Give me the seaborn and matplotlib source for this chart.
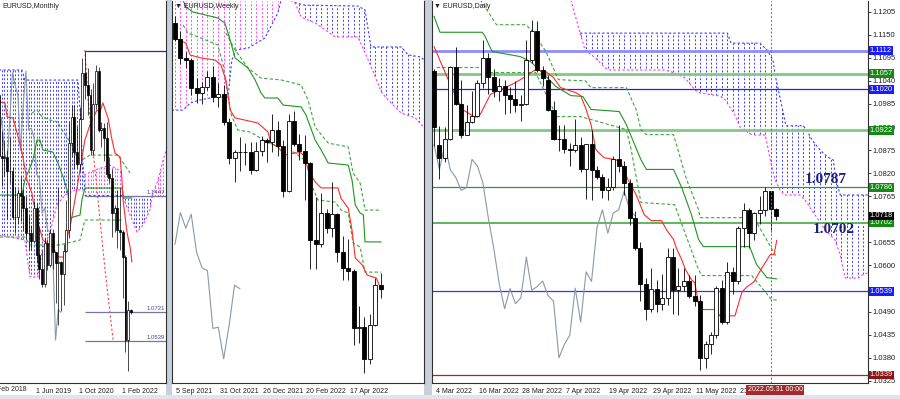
import numpy as np
import matplotlib
matplotlib.use("Agg")
import matplotlib.pyplot as plt
import matplotlib.transforms as mtransforms
from matplotlib.patches import Polygon, Rectangle
import seaborn as sns

# ---------------- DATA ----------------
# Monthly EURUSD, index 0 = Feb 2018 ... 52 = Jun 2022
m_open = [1.2415,1.2193,1.2324,1.2078,1.1693,1.1684,1.1690,1.1601,1.1604,1.1311,1.1317,1.1466,1.1447,1.1372,1.1217,1.1214,1.1166,1.1370,1.1075,1.0990,1.0898,1.1152,1.1017,1.1213,1.1093,1.1026,1.1030,1.0955,1.1101,1.1233,1.1778,1.1936,1.1720,1.1647,1.1927,1.2216,1.2136,1.2075,1.1730,1.2020,1.2226,1.1858,1.1869,1.1808,1.1580,1.1558,1.1338,1.1370,1.1235,1.1218,1.1067,1.0545,1.0733]
m_high = [1.2556,1.2476,1.2414,1.2097,1.1852,1.1791,1.1734,1.1815,1.1625,1.1500,1.1486,1.1570,1.1489,1.1448,1.1324,1.1265,1.1412,1.1400,1.1249,1.1109,1.1180,1.1176,1.1240,1.1239,1.1095,1.1496,1.1038,1.1146,1.1422,1.1908,1.2011,1.2011,1.1881,1.2004,1.2310,1.2349,1.2243,1.2113,1.2150,1.2266,1.2254,1.1909,1.1900,1.1909,1.1692,1.1616,1.1386,1.1482,1.1495,1.1233,1.1076,1.0787,1.0736]
m_low = [1.2153,1.2155,1.2055,1.1510,1.1508,1.1573,1.1301,1.1526,1.1302,1.1216,1.1269,1.1289,1.1234,1.1176,1.1110,1.1107,1.1158,1.1027,1.0926,1.0879,1.0879,1.0981,1.1003,1.0992,1.0778,1.0636,1.0727,1.0767,1.1095,1.1185,1.1696,1.1612,1.1622,1.1602,1.1925,1.2053,1.1952,1.1704,1.1704,1.1986,1.1847,1.1752,1.1664,1.1563,1.1524,1.1186,1.1222,1.1121,1.1106,1.0806,1.0471,1.0349,1.0708]
m_close = [1.2193,1.2324,1.2078,1.1693,1.1684,1.1690,1.1601,1.1604,1.1311,1.1317,1.1466,1.1447,1.1372,1.1217,1.1214,1.1166,1.1370,1.1075,1.0990,1.0898,1.1152,1.1017,1.1213,1.1093,1.1026,1.1030,1.0955,1.1101,1.1233,1.1778,1.1936,1.1720,1.1647,1.1927,1.2216,1.2136,1.2075,1.1730,1.2020,1.2226,1.1858,1.1869,1.1808,1.1580,1.1558,1.1338,1.1370,1.1235,1.1218,1.1067,1.0545,1.0733,1.0718]
m_tick_pos = [16, 32, 48]
m_tick_lab = ['1 Jun 2019', '1 Oct 2020', '1 Feb 2022']
m_tenkan_x = [3.3,5.2,6.0,8.2,9.7,11.5,13.4,15.2,15.6,17.5,19.3,20.8,23.0,24.9,27.5,28.3,29.4,31.2,33.1,34.9,36.8,39.4,40.5,41.6,43.5,45.0,46.1,48.0,48.7,49.1,50.6,51.7,52.4]
m_tenkan_y = [1.2033,1.2027,1.1939,1.1933,1.1839,1.1720,1.1545,1.1464,1.1420,1.1276,1.1170,1.1151,1.1126,1.1064,1.1064,1.1189,1.1251,1.1420,1.1608,1.1795,1.1889,1.1983,1.1970,1.2027,1.1933,1.1795,1.1714,1.1689,1.1545,1.1420,1.1214,1.1126,1.1033]
m_kijun_x = [3.3,11.5,12.6,15.6,17.1,18.2,19.3,23.0,24.9,26.8,28.6,29.4,33.1,33.8,34.9,48.7,49.4,52.4]
m_kijun_y = [1.1451,1.1451,1.1545,1.1670,1.1795,1.1795,1.1733,1.1720,1.1651,1.1564,1.1464,1.1308,1.1326,1.1420,1.1495,1.1495,1.1433,1.1433]
m_dash1_x = [15.2,17.1,19.0,21.9,24.9,25.7,28.3,30.1,32.0,33.8,36.8,47.2,51.7]
m_dash1_y = [1.1964,1.1983,1.1939,1.1920,1.1908,1.1876,1.1814,1.1751,1.1689,1.1670,1.1701,1.1701,1.1589]
m_dash2_x = [3.3,12.6,14.5,25.7,28.3,33.1,34.9,49.1]
m_dash2_y = [1.1189,1.1189,1.1139,1.1139,1.1151,1.1170,1.1295,1.1295]
m_red_dash_x = [34.9,36.1,37.9,39.8,42.4,45.4]
m_red_dash_y = [1.2358,1.2045,1.1733,1.1420,1.0983,1.0545]
m_levels = [1.2349, 1.1447, 1.0721, 1.0539]
m_level_labels = ['', '1.1447', '1.0721', '1.0539']
m_cloud1_top_x = [3.0,11.5,12.6,32.3,33.1,33.8,34.9]
m_cloud1_top_y = [1.2233,1.2233,1.2170,1.2170,1.1983,1.1733,1.1483]
m_cloud1_bot_x = [3.0,12.6,14.5,17.5,19.0,21.9,24.5,27.5,31.2,34.9]
m_cloud1_bot_y = [1.1201,1.1170,1.0939,1.0939,1.1108,1.1214,1.1389,1.1451,1.1483,1.1483]
m_cloud2_top_x = [34.6,38.7,44.2,48.7]
m_cloud2_top_y = [1.1576,1.1608,1.1639,1.1595]
m_cloud2_bot_x = [34.6,48.7]
m_cloud2_bot_y = [1.1451,1.1451]
m_cloud3_top_x = [49.1,59.9]
m_cloud3_top_y = [1.1445,1.1445]
m_cloud3_bot_x = [49.1,51.7,54.3,56.5,59.1,59.9]
m_cloud3_bot_y = [1.1439,1.1326,1.1220,1.1264,1.1358,1.1439]
m_cloud4_top_x = [59.9,62.1,64.0,65.4]
m_cloud4_top_y = [1.1445,1.1545,1.1670,1.1745]
m_cloud4_bot_x = [59.9,65.4]
m_cloud4_bot_y = [1.1445,1.1445]

# Weekly EURUSD, index 0 = week of 5 Sep 2021 ... 38 = week of 29 May 2022
w_open = [1.1880,1.1812,1.1726,1.1720,1.1596,1.1574,1.1600,1.1644,1.1558,1.1568,1.1445,1.1289,1.1318,1.1315,1.1316,1.1239,1.1322,1.1370,1.1360,1.1410,1.1344,1.1146,1.1452,1.1349,1.1320,1.1270,1.0930,1.0912,1.1051,1.0983,1.1044,1.0877,1.0810,1.0797,1.0545,1.0550,1.0412,1.0558,1.0734]
w_high = [1.1909,1.1846,1.1752,1.1726,1.1640,1.1624,1.1669,1.1692,1.1616,1.1609,1.1464,1.1323,1.1383,1.1355,1.1360,1.1361,1.1386,1.1375,1.1482,1.1453,1.1370,1.1484,1.1495,1.1395,1.1390,1.1274,1.1121,1.1137,1.1069,1.1185,1.1051,1.0951,1.0936,1.0805,1.0642,1.0593,1.0608,1.0765,1.0787]
w_low = [1.1802,1.1700,1.1683,1.1563,1.1529,1.1524,1.1586,1.1535,1.1513,1.1433,1.1264,1.1186,1.1235,1.1260,1.1222,1.1234,1.1300,1.1272,1.1315,1.1300,1.1121,1.1139,1.1343,1.1281,1.1106,1.0806,1.0806,1.0900,1.0961,1.0945,1.0835,1.0757,1.0757,1.0471,1.0483,1.0350,1.0389,1.0556,1.0680]
w_close = [1.1812,1.1726,1.1720,1.1596,1.1574,1.1600,1.1644,1.1558,1.1568,1.1445,1.1289,1.1318,1.1315,1.1316,1.1239,1.1322,1.1370,1.1360,1.1410,1.1344,1.1146,1.1452,1.1349,1.1320,1.1270,1.0930,1.0912,1.1051,1.0983,1.1044,1.0877,1.0810,1.0797,1.0545,1.0550,1.0412,1.0558,1.0734,1.0718]
w_tick_pos = [0, 8, 16, 24, 32]
w_tick_lab = ['5 Sep 2021', '31 Oct 2021', '26 Dec 2021', '20 Feb 2022', '17 Apr 2022']
w_tenkan_x = [0,2.0,2.8,4.8,7.4,8.5,9.4,10.2,11.1,15.3,17.2,17.7,19.0,20.3,22.2,23.3,24.0,24.6,25.9,27.0,30.1,30.7,32.0,32.7,33.3,34.6,35.5,37.2,38.1]
w_tenkan_y = [1.1815,1.1792,1.1740,1.1727,1.1718,1.1696,1.1631,1.1499,1.1465,1.1443,1.1403,1.1355,1.1338,1.1303,1.1312,1.1312,1.1294,1.1237,1.1185,1.1159,1.1159,1.1112,1.1071,1.0975,1.0853,1.0822,1.0778,1.0765,1.0713]
w_kijun_x = [1.4,2.0,3.3,7.9,9.2,10.2,11.1,13.5,14.8,15.9,16.6,19.0,20.0,23.3,24.2,25.9,27.0,28.3,32.0,32.7,33.3,34.2,34.8,35.1,38.1]
w_kijun_y = [1.1985,1.1950,1.1928,1.1902,1.1880,1.1805,1.1727,1.1683,1.1631,1.1574,1.1552,1.1552,1.1521,1.1513,1.1478,1.1368,1.1325,1.1268,1.1259,1.1194,1.1084,1.1049,1.1041,1.0923,1.0923]
w_dash1_x = [9.4,11.1,13.5,15.9,19.6,23.3,24.6,25.9,28.3,32.0,32.9,34.2,34.8,35.1,38.1]
w_dash1_y = [1.1836,1.1762,1.1683,1.1639,1.1631,1.1609,1.1543,1.1425,1.1355,1.1338,1.1224,1.1180,1.1106,1.1062,1.1062]
w_dash2_x = [1.5,2.4,4.8,7.9,8.9,10.4,11.6,14.0,17.2,19.6,22.2,24.6,25.1,26.4,29.6,30.7,32.0,32.9,34.2,35.1,38.1]
w_dash2_y = [1.1871,1.1836,1.1814,1.1784,1.1696,1.1478,1.1412,1.1403,1.1355,1.1338,1.1312,1.1268,1.1180,1.1106,1.1097,1.1062,1.1049,1.0918,1.0901,1.0791,1.0791]
w_pcloud_top_x = [-0.6, 19.9]
w_pcloud_top_y = [1.2100, 1.2100]
w_pcloud_bot_x = [-0.6,1.5,2.8,4.6,7.4,9.8,10.5,11.3,13.5,16.6,19.0,19.6]
w_pcloud_bot_y = [1.1499,1.1499,1.1530,1.1543,1.1556,1.1556,1.1718,1.1762,1.1770,1.1814,1.1923,1.1980]
w_bcloud_top_x = [21.4,22.4,24.0,33.8,35.1,36.2,41.8,43.1,45.5,46.4]
w_bcloud_top_y = [1.1980,1.1967,1.1958,1.1954,1.1937,1.1775,1.1775,1.1740,1.1731,1.1705]
w_bcloud_bot_x = [21.4,22.2,23.3,25.9,29.6,33.8,35.7,37.0,38.1,39.4,41.8,44.4,46.4]
w_bcloud_bot_y = [1.1980,1.1967,1.1906,1.1880,1.1819,1.1819,1.1718,1.1644,1.1578,1.1543,1.1486,1.1465,1.1412]

# Daily EURUSD, index 0 = 4 Mar 2022 ... 63 = 1 Jun 2022
d_open = [1.1063,1.0888,1.0857,1.0902,1.1072,1.0985,1.0912,1.0941,1.0957,1.1034,1.1094,1.1050,1.1016,1.1028,1.1006,1.0996,1.0983,1.0985,1.1089,1.1159,
          1.1066,1.1043,1.0971,1.0902,1.0901,1.0877,1.0876,1.0888,1.0829,1.0889,1.0828,1.0810,1.0779,1.0786,1.0853,1.0837,1.0797,1.0713,1.0641,1.0557,1.0497,
          1.0545,1.0509,1.0523,1.0620,1.0541,1.0550,1.0563,1.0528,1.0515,1.0380,1.0412,1.0434,1.0546,1.0465,1.0585,1.0562,1.0690,1.0733,1.0677,1.0725,1.0733,1.0777,1.0734]
d_high = [1.1069,1.0933,1.0929,1.1075,1.1121,1.1043,1.0983,1.1017,1.1043,1.1137,1.1107,1.1069,1.1047,1.1041,1.1026,1.1039,1.1006,1.1137,1.1185,1.1184,
          1.1076,1.1053,1.0993,1.0936,1.0936,1.0892,1.0950,1.0907,1.0890,1.0924,1.0838,1.0817,1.0808,1.0861,1.0936,1.0849,1.0805,1.0731,1.0657,1.0570,1.0593,
          1.0566,1.0579,1.0642,1.0641,1.0593,1.0593,1.0577,1.0577,1.0529,1.0420,1.0441,1.0551,1.0565,1.0608,1.0597,1.0694,1.0749,1.0737,1.0728,1.0765,1.0787,1.0778,1.0736]
d_low = [1.0884,1.0806,1.0846,1.0900,1.0983,1.0905,1.0910,1.0939,1.0954,1.1022,1.1009,1.1001,1.0993,1.0961,1.0963,1.0965,1.0945,1.0982,1.1083,1.1062,
         1.1027,1.0969,1.0900,1.0873,1.0868,1.0837,1.0871,1.0822,1.0758,1.0757,1.0805,1.0762,1.0757,1.0781,1.0824,1.0769,1.0697,1.0637,1.0516,1.0471,1.0490,
         1.0490,1.0494,1.0505,1.0484,1.0483,1.0540,1.0523,1.0503,1.0350,1.0355,1.0389,1.0428,1.0461,1.0460,1.0532,1.0556,1.0643,1.0642,1.0661,1.0700,1.0718,1.0680,1.0708]
d_close = [1.0931,1.0857,1.0902,1.1072,1.0985,1.0912,1.0941,1.0957,1.1034,1.1094,1.1050,1.1016,1.1028,1.1006,1.0996,1.0983,1.0985,1.1089,1.1159,1.1067,
           1.1046,1.0971,1.0902,1.0901,1.0877,1.0876,1.0888,1.0829,1.0889,1.0828,1.0810,1.0779,1.0786,1.0853,1.0837,1.0797,1.0713,1.0641,1.0557,1.0497,1.0545,
           1.0509,1.0523,1.0620,1.0541,1.0550,1.0563,1.0528,1.0515,1.0380,1.0412,1.0434,1.0546,1.0465,1.0585,1.0562,1.0690,1.0733,1.0677,1.0725,1.0733,1.0777,1.0734,1.0718]
d_tick_pos = [0, 8, 16, 24, 32, 40, 48, 56]
d_tick_lab = ['4 Mar 2022', '16 Mar 2022', '28 Mar 2022', '7 Apr 2022', '19 Apr 2022', '29 Apr 2022', '11 May 2022', '23 May 2022']
d_tenkan_x = [0,3,5.2,7.6,8.5,10.4,13.1,15,16.9,18.7,20.6,22,23.3,26.1,27,28,28.9,29.8,31.3,33.5,34.4,35.7,37.2,38.7,40,41.9,42.8,44.1,44.6,45.6,46.3,47.4,48,48.9,52,52.6,55.4,56.7,57.6,58.9,60.4,61.9,62.6,63.1]
d_tenkan_y = [1.1122,1.1031,1.0972,1.0953,1.0960,1.1008,1.1024,1.1036,1.1051,1.1067,1.1062,1.1048,1.1024,1.1012,1.1005,1.0972,1.0936,1.0876,1.0857,1.0852,1.0845,1.0805,1.0769,1.0721,1.0707,1.0707,1.0685,1.0662,1.0642,1.0614,1.0590,1.0566,1.0559,1.0495,1.0495,1.0480,1.0480,1.0537,1.0549,1.0561,1.0595,1.0626,1.0626,1.0660]
d_kijun_x = [0,1.1,8.9,9.4,10.7,15.9,17.8,20.6,22.4,25.2,27.4,28.9,34.1,35.4,38.1,39.1,44.1,45.6,47.4,48.7,49.6,58.1,59.4,61.3,63.1]
d_kijun_y = [1.1194,1.1156,1.1156,1.1146,1.1110,1.1098,1.1086,1.1051,1.1027,1.1005,1.1003,1.0972,1.0967,1.0936,1.0852,1.0829,1.0829,1.0786,1.0721,1.0662,1.0645,1.0645,1.0602,1.0571,1.0568]
d_dash1_x = [8.5,11.5,16.9,18.0,20.6,22.9,27.9,28.9,35.4,37.2,38.1,39.1,44.1,46.5,48.7,49.0,58.9,63.1]
d_dash1_y = [1.1234,1.1174,1.1174,1.1160,1.1110,1.1043,1.1040,1.1024,1.1024,1.0972,1.0924,1.0912,1.0912,1.0805,1.0733,1.0714,1.0714,1.0619]
d_dash2_x = [0.5,8.9,9.6,18.7,22.6,27.0,35.4,36.3,38.1,44.3,48.7,49.3,58.5,62.2,63.1]
d_dash2_y = [1.1072,1.1072,1.1060,1.1060,1.0955,1.0955,1.0924,1.0876,1.0750,1.0745,1.0590,1.0576,1.0576,1.0518,1.0518]
d_cloud_top_x = [26.9,54.0,54.7,60.0,61.3,62.4,62.8,63.4,64.3,64.8,68.0,68.9,69.6,71.1,72.4,73.5,74.0,74.8,80.3]
d_cloud_top_y = [1.1154,1.1154,1.1130,1.1130,1.1114,1.1090,1.1054,1.1018,1.0964,1.0933,1.0933,1.0916,1.0899,1.0875,1.0859,1.0852,1.0804,1.0768,1.0768]
d_cloud_bot_x = [25.2,26.9,27.8,29.7,31.5,32.4,42.5,43.8,46.2,48.1,49.0,52.7,53.6,55.4,56.4,58.6,61.0,61.9,62.8,63.7,64.6,67.4,68.3,72.0,73.8,74.8,75.7,78.1,78.8,80.3]
d_cloud_bot_y = [1.1233,1.1154,1.1114,1.1095,1.1071,1.1066,1.1066,1.1061,1.1047,1.1018,1.1011,1.1004,1.0995,1.0959,1.0928,1.0911,1.0911,1.0852,1.0804,1.0780,1.0768,1.0768,1.0756,1.0685,1.0661,1.0625,1.0570,1.0570,1.0577,1.0585]
d_levels = [1.1112, 1.1057, 1.1020, 1.0922, 1.0786, 1.0702, 1.0539, 1.0339]
d_level_colors = ['#8c8cff', '#86c886', '#2222ff', '#86c886', '#2e9a2e', '#5cb85c', '#3434ff', '#9a2a2a']
d_level_widths = [2.0, 2.0, 0.9, 2.0, 0.9, 1.4, 0.9, 0.9]
d_box_colors = ['#1a1aff', '#138a13', '#1a1aff', '#138a13', '#138a13', '#138a13', '#1a1aff', '#8b1414']
d_last_price = 1.0718
d_cross_idx = 62
d_cross_label = '2022.05.31 00:00'
d_note_levels = ['1.0787', '1.0702']
d_note_pos = [(68.3, 1.0805), (69.8, 1.0685)]
d_price_ticks = [1.0325, 1.0380, 1.0435, 1.0490, 1.0600, 1.0655, 1.0765, 1.0820,
                 1.0875, 1.0930, 1.0985, 1.1040, 1.1095, 1.1150, 1.1205]

# ---------------- STYLE / FIGURE ----------------
sns.set_style("white")
plt.rcParams['font.family'] = ['Liberation Sans', 'DejaVu Sans']

W, H = 900, 399
fig = plt.figure(figsize=(W / 100, H / 100), dpi=100)
fig.patch.set_facecolor('white')

STRIP = '#c7cfda'
for x0, w in [(166, 6), (424, 8)]:
    fig.add_artist(Rectangle((x0 / W, 0), w / W, 1, transform=fig.transFigure,
                             facecolor=STRIP, edgecolor='none', zorder=-5))
fig.add_artist(Rectangle((0, 0), 1, 4 / H, transform=fig.transFigure,
                         facecolor='#dfe5ec', edgecolor='none', zorder=-5))


def px_axes(x0, x1, y0, y1, left=True):
    ax = fig.add_axes([x0 / W, 1 - y1 / H, (x1 - x0) / W, (y1 - y0) / H])
    ax.set_facecolor('white')
    ax.spines['top'].set_visible(False)
    ax.spines['left'].set_visible(left)
    for s in ['left', 'right', 'bottom']:
        ax.spines[s].set_color('#303030')
        ax.spines[s].set_linewidth(0.8)
    return ax


axM = px_axes(0, 166, 1, 383, left=False)
axW = px_axes(172, 424, 1, 383)
axD = px_axes(432, 868, 1, 383)

axM.set_xlim(3.35, 65.06); axM.set_ylim(1.02765, 1.2664)
axW.set_xlim(-0.55, 46.0); axW.set_ylim(1.03063, 1.1976)
axD.set_xlim(-0.37, 79.9); axD.set_ylim(1.03199, 1.12305)

RED = '#ff2a2a'; KIJ = '#1e961e'; DGR = '#3aa83a'; CHI = '#8c98a8'
BLUE = '#3a3aff'; PINK = '#ff33ff'


def candles(ax, o, h, l, c, width, lw=0.6):
    o, h, l, c = map(np.asarray, (o, h, l, c))
    x = np.arange(len(o))
    ax.vlines(x, l, h, color='black', lw=lw, zorder=4)
    up = c >= o
    bottom = np.minimum(o, c)
    height = np.maximum(np.abs(c - o), 0.00006)
    ax.bar(x[up], height[up], width, bottom[up], facecolor='white', edgecolor='black', lw=lw, zorder=5)
    ax.bar(x[~up], height[~up], width, bottom[~up], facecolor='black', edgecolor='black', lw=lw, zorder=5)


def cloud(ax, tx, ty, bx, by, hatch, top_col, bot_col, lw=0.7):
    verts = list(zip(tx, ty)) + list(zip(bx[::-1], by[::-1]))
    poly = Polygon(verts, closed=True, facecolor='none', edgecolor='none', zorder=0)
    ax.add_patch(poly)
    y0, y1 = ax.get_ylim()
    xs = np.arange(int(np.ceil(min(tx + bx))), int(np.floor(max(tx + bx))) + 1)
    lc = ax.vlines(xs, y0, y1, colors=hatch, linewidth=lw, linestyles=[(0, (2, 2))], zorder=1)
    lc.set_clip_path(poly)
    if top_col:
        ax.plot(tx, ty, color=top_col, lw=0.8, ls=(0, (2, 2)), zorder=1.5)
    if bot_col:
        ax.plot(bx, by, color=bot_col, lw=0.8, ls=(0, (2, 2)), zorder=1.5)


def chikou(ax, close):
    close = np.asarray(close)
    xs = np.arange(len(close))[26:] - 26
    sns.lineplot(x=xs, y=close[26:], ax=ax, color=CHI, lw=0.8, estimator=None, sort=False,
                 legend=False, zorder=2)


def ichi_lines(ax, tk, kj, d1, d2):
    ax.plot(d1[0], d1[1], color=DGR, lw=0.8, ls=(0, (3, 2)), zorder=3)
    ax.plot(d2[0], d2[1], color=DGR, lw=0.8, ls=(0, (3, 2)), zorder=3)
    ax.plot(kj[0], kj[1], color=KIJ, lw=0.8, zorder=3)
    ax.plot(tk[0], tk[1], color=RED, lw=0.8, zorder=3)


def dates(ax, pos, labels):
    ax.set_xticks(pos)
    ax.set_xticklabels(labels, fontsize=5, ha='left')
    ax.tick_params(axis='x', direction='out', length=2.5, width=0.6, pad=1.2, colors='#202020')
    off = mtransforms.ScaledTranslation(1.5 / 100, 0, fig.dpi_scale_trans)
    for lb in ax.get_xticklabels():
        lb.set_transform(lb.get_transform() + off)


# ---------------- MONTHLY ----------------
cloud(axM, m_cloud1_top_x, m_cloud1_top_y, m_cloud1_bot_x, m_cloud1_bot_y, '#4040ff', BLUE, PINK)
cloud(axM, m_cloud2_top_x, m_cloud2_top_y, m_cloud2_bot_x, m_cloud2_bot_y, '#ff44ff', PINK, BLUE)
cloud(axM, m_cloud3_top_x, m_cloud3_top_y, m_cloud3_bot_x, m_cloud3_bot_y, '#4040ff', BLUE, PINK)
cloud(axM, m_cloud4_top_x, m_cloud4_top_y, m_cloud4_bot_x, m_cloud4_bot_y, '#ff44ff', PINK, BLUE)
chikou(axM, m_close)
ichi_lines(axM, (m_tenkan_x, m_tenkan_y), (m_kijun_x, m_kijun_y),
           (m_dash1_x, m_dash1_y), (m_dash2_x, m_dash2_y))
axM.plot(m_red_dash_x, m_red_dash_y, color='#ff4040', lw=0.8, ls=(0, (2, 2)), zorder=3)
axM.hlines(m_levels, 34.9, 65.06, colors=['#2c2c8c', '#7474a8', '#7474a8', '#7474a8'], lw=0.9, zorder=3)
for lv, lb in zip(m_levels, m_level_labels):
    if lb:
        axM.text(64.6, lv + 0.0006, lb, fontsize=4.3, color='#4a4a80', ha='right', va='bottom', zorder=6)
candles(axM, m_open, m_high, m_low, m_close, 0.72, lw=0.5)
axM.set_yticks([])
dates(axM, m_tick_pos, m_tick_lab)
axM.text(0, -0.018, '1 Feb 2018', transform=mtransforms.blended_transform_factory(axM.transData, axM.transAxes),
         fontsize=5, ha='left', va='center', clip_on=False)

# ---------------- WEEKLY ----------------
cloud(axW, w_pcloud_top_x, w_pcloud_top_y, w_pcloud_bot_x, w_pcloud_bot_y, '#ff44ff', None, BLUE)
cloud(axW, w_bcloud_top_x, w_bcloud_top_y, w_bcloud_bot_x, w_bcloud_bot_y, '#4040ff', BLUE, PINK)
chikou(axW, w_close)
ichi_lines(axW, (w_tenkan_x, w_tenkan_y), (w_kijun_x, w_kijun_y),
           (w_dash1_x, w_dash1_y), (w_dash2_x, w_dash2_y))
candles(axW, w_open, w_high, w_low, w_close, 0.74, lw=0.6)
axW.set_yticks([])
dates(axW, w_tick_pos, w_tick_lab)

# ---------------- DAILY ----------------
cloud(axD, d_cloud_top_x, d_cloud_top_y, d_cloud_bot_x[1:], d_cloud_bot_y[1:], '#3a3aff', BLUE, PINK)
axD.plot(d_cloud_bot_x[:2], d_cloud_bot_y[:2], color=PINK, lw=0.8, ls=(0, (2, 2)), zorder=1.5)
for lv, col, lw in zip(d_levels, d_level_colors, d_level_widths):
    axD.axhline(lv, color=col, lw=lw, zorder=2)
chikou(axD, d_close)
ichi_lines(axD, (d_tenkan_x, d_tenkan_y), (d_kijun_x, d_kijun_y),
           (d_dash1_x, d_dash1_y), (d_dash2_x, d_dash2_y))
candles(axD, d_open, d_high, d_low, d_close, 0.74, lw=0.6)
axD.axvline(d_cross_idx, color='#cc4a4a', lw=0.7, ls=(0, (2, 2)), zorder=6)

axD.yaxis.tick_right()
axD.set_yticks(d_price_ticks)
axD.set_yticklabels([f'{v:.4f}' for v in d_price_ticks], fontsize=5.5)
axD.tick_params(axis='y', direction='out', length=2, width=0.6, pad=1.5, colors='#202020')
dates(axD, d_tick_pos, d_tick_lab)

tr = mtransforms.blended_transform_factory(axD.transAxes, axD.transData)
for lv, col in zip(d_levels, d_box_colors):
    axD.text(1.004, lv, f'{lv:.4f}', transform=tr, fontsize=5.5, color='white', ha='left', va='center',
             bbox=dict(boxstyle='square,pad=0.12', fc=col, ec='none'), zorder=20, clip_on=False)
axD.text(1.004, d_last_price, f'{d_last_price:.4f}', transform=tr, fontsize=5.5, color='white', ha='left',
         va='center', bbox=dict(boxstyle='square,pad=0.12', fc='black', ec='none'), zorder=21, clip_on=False)

trx = mtransforms.blended_transform_factory(axD.transData, axD.transAxes)
axD.text(d_cross_idx + 0.8, -0.018, d_cross_label, transform=trx, fontsize=5, color='white', ha='center',
         va='center', bbox=dict(boxstyle='square,pad=0.25', fc='#a52a2a', ec='none'), zorder=21, clip_on=False)

for txt, (xi, yv) in zip(d_note_levels, d_note_pos):
    axD.text(xi, yv, txt, fontsize=11, color='#1f1f78', fontweight='bold',
             family=['Liberation Serif', 'DejaVu Serif'], ha='left', va='center', zorder=12)

# ---------------- TITLES ----------------
fig.text(2 / W, 1 - 6 / H, 'EURUSD,Monthly', fontsize=5, ha='left', va='center', color='#202020')
fig.text(175 / W, 1 - 7 / H, '▼ EURUSD,Weekly', fontsize=5, ha='left', va='center', color='#202020')
fig.text(434 / W, 1 - 7 / H, '▼ EURUSD,Daily', fontsize=5, ha='left', va='center', color='#202020')

fig.savefig('out.png', dpi=100, facecolor='white')
